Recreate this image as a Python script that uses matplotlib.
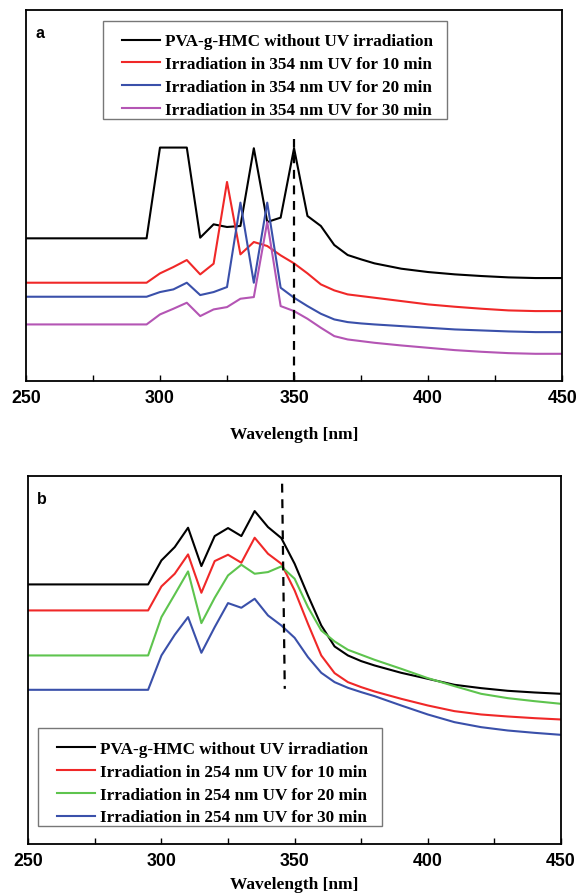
import matplotlib
matplotlib.use("Agg")
import matplotlib.pyplot as plt
from matplotlib.ticker import MultipleLocator
from matplotlib.patches import Rectangle

wavelength = [250, 295, 300, 305, 310, 315, 320, 325, 330, 335, 340, 345, 350,
              355, 360, 365, 370, 375, 380, 390, 400, 410, 420, 430, 440, 450]

# Panel a (354 nm UV), arbitrary absorbance units
a_none = [428, 428, 700, 700, 700, 430, 470, 462, 465, 698, 477, 490, 698,
          495, 465, 408, 378, 365, 353, 337, 327, 320, 315, 311, 309, 309]
a_10 = [295, 295, 323, 342, 363, 320, 352, 597, 380, 417, 405, 377, 353,
        323, 290, 272, 260, 255, 250, 240, 230, 223, 217, 212, 210, 210]
a_20 = [253, 253, 267, 275, 295, 258, 267, 282, 535, 295, 535, 280, 250,
        225, 202, 185, 177, 173, 170, 165, 160, 155, 152, 149, 147, 147]
a_30 = [170, 170, 200, 217, 235, 195, 215, 222, 247, 252, 477, 225, 210,
        187, 160, 135, 125, 120, 115, 107, 100, 93, 88, 84, 82, 82]

# Panel b (254 nm UV)
b_none = [778, 778, 850, 890, 948, 833, 923, 947, 923, 998, 950, 917, 840,
          745, 655, 592, 565, 548, 535, 513, 495, 477, 467, 459, 454, 450]
b_10 = [700, 700, 772, 810, 868, 753, 848, 867, 843, 918, 870, 840, 760,
        660, 565, 512, 485, 470, 457, 435, 415, 398, 388, 382, 377, 373]
b_20 = [565, 565, 680, 748, 817, 662, 738, 805, 837, 810, 815, 832, 795,
        710, 640, 607, 582, 567, 552, 525, 497, 473, 450, 437, 428, 420]
b_30 = [462, 462, 565, 627, 680, 573, 650, 722, 708, 735, 685, 655, 618,
        560, 513, 485, 468, 455, 443, 415, 388, 365, 350, 340, 333, 327]

labels_a = ["PVA-g-HMC without UV irradiation",
            "Irradiation in 354 nm UV for 10 min",
            "Irradiation in 354 nm UV for 20 min",
            "Irradiation in 354 nm UV for 30 min"]
labels_b = ["PVA-g-HMC without UV irradiation",
            "Irradiation in 254 nm UV for 10 min",
            "Irradiation in 254 nm UV for 20 min",
            "Irradiation in 254 nm UV for 30 min"]

dash_a_x = [350, 350]
dash_a_y = [0, 725]
dash_b_x = [345.3, 346.3]
dash_b_y = [1080, 465]

BLACK = "#000000"
RED = "#f02828"
BLUE = "#3a50aa"
PURPLE = "#b455b4"
GREEN = "#5ec44e"

serif = ["Liberation Serif", "DejaVu Serif"]
sans = ["Liberation Sans", "DejaVu Sans"]

W, H = 576, 895
fig = plt.figure(figsize=(W / 100, H / 100), dpi=100)
ax1 = fig.add_axes([0.045, 0.573, 0.931, 0.415])
ax2 = fig.add_axes([0.049, 0.056, 0.925, 0.411])


def style(ax, ylim, letter, letter_y, labelpad):
    ax.set_xlim(250, 450)
    ax.set_ylim(*ylim)
    ax.set_yticks([])
    ax.xaxis.set_major_locator(MultipleLocator(50))
    ax.xaxis.set_minor_locator(MultipleLocator(25))
    ax.tick_params(axis="x", which="both", direction="in", top=False,
                   length=4, width=1.0, pad=6)
    for lab in ax.get_xticklabels():
        lab.set_fontfamily(sans)
        lab.set_fontweight("bold")
        lab.set_fontsize(12.8)
    for sp in ax.spines.values():
        sp.set_linewidth(1.3)
    ax.set_xlabel("Wavelength [nm]", family=serif, fontweight="bold",
                  fontsize=12.5, labelpad=labelpad)
    ax.text(0.017, letter_y, letter, transform=ax.transAxes, family=sans,
            fontweight="bold", fontsize=11.5, va="center", ha="left")


legend_kw = dict(prop={"family": serif, "weight": "bold", "size": 12.3},
                 handlelength=2.2, handletextpad=0.3, borderpad=0,
                 labelspacing=0.4, frameon=False, borderaxespad=0,
                 loc="upper left", bbox_transform=fig.transFigure)


def legend_box(x0, y0, x1, y1):
    # frame drawn in figure pixel layout coordinates
    fig.patches.append(Rectangle((x0 / W, 1 - y1 / H), (x1 - x0) / W,
                                 (y1 - y0) / H, transform=fig.transFigure,
                                 facecolor="white", edgecolor="#777777",
                                 linewidth=1.0, zorder=4))


lw = 1.5
ax1.plot(wavelength, a_none, color=BLACK, lw=lw, label=labels_a[0])
ax1.plot(wavelength, a_10, color=RED, lw=lw, label=labels_a[1])
ax1.plot(wavelength, a_20, color=BLUE, lw=lw, label=labels_a[2])
ax1.plot(wavelength, a_30, color=PURPLE, lw=lw, label=labels_a[3])
ax1.plot(dash_a_x, dash_a_y, color="black", lw=1.6, ls=(0, (4, 3)))
style(ax1, (0, 1113), "a", 0.94, 14)

ax2.plot(wavelength, b_none, color=BLACK, lw=lw, label=labels_b[0])
ax2.plot(wavelength, b_10, color=RED, lw=lw, label=labels_b[1])
ax2.plot(wavelength, b_20, color=GREEN, lw=lw, label=labels_b[2])
ax2.plot(wavelength, b_30, color=BLUE, lw=lw, label=labels_b[3])
ax2.plot(dash_b_x, dash_b_y, color="black", lw=1.6, ls=(0, (4, 3)))
style(ax2, (0, 1103), "b", 0.94, 5)

legend_box(103, 22, 447, 120)
legend_box(38, 729, 382, 827)

leg1 = fig.legend(*ax1.get_legend_handles_labels(),
                  bbox_to_anchor=(122 / W, 1 - 34.5 / H), **legend_kw)
leg2 = fig.legend(*ax2.get_legend_handles_labels(),
                  bbox_to_anchor=(57 / W, 1 - 742 / H), **legend_kw)
leg1.set_zorder(5)
leg2.set_zorder(5)

fig.savefig("out.png", dpi=100)
